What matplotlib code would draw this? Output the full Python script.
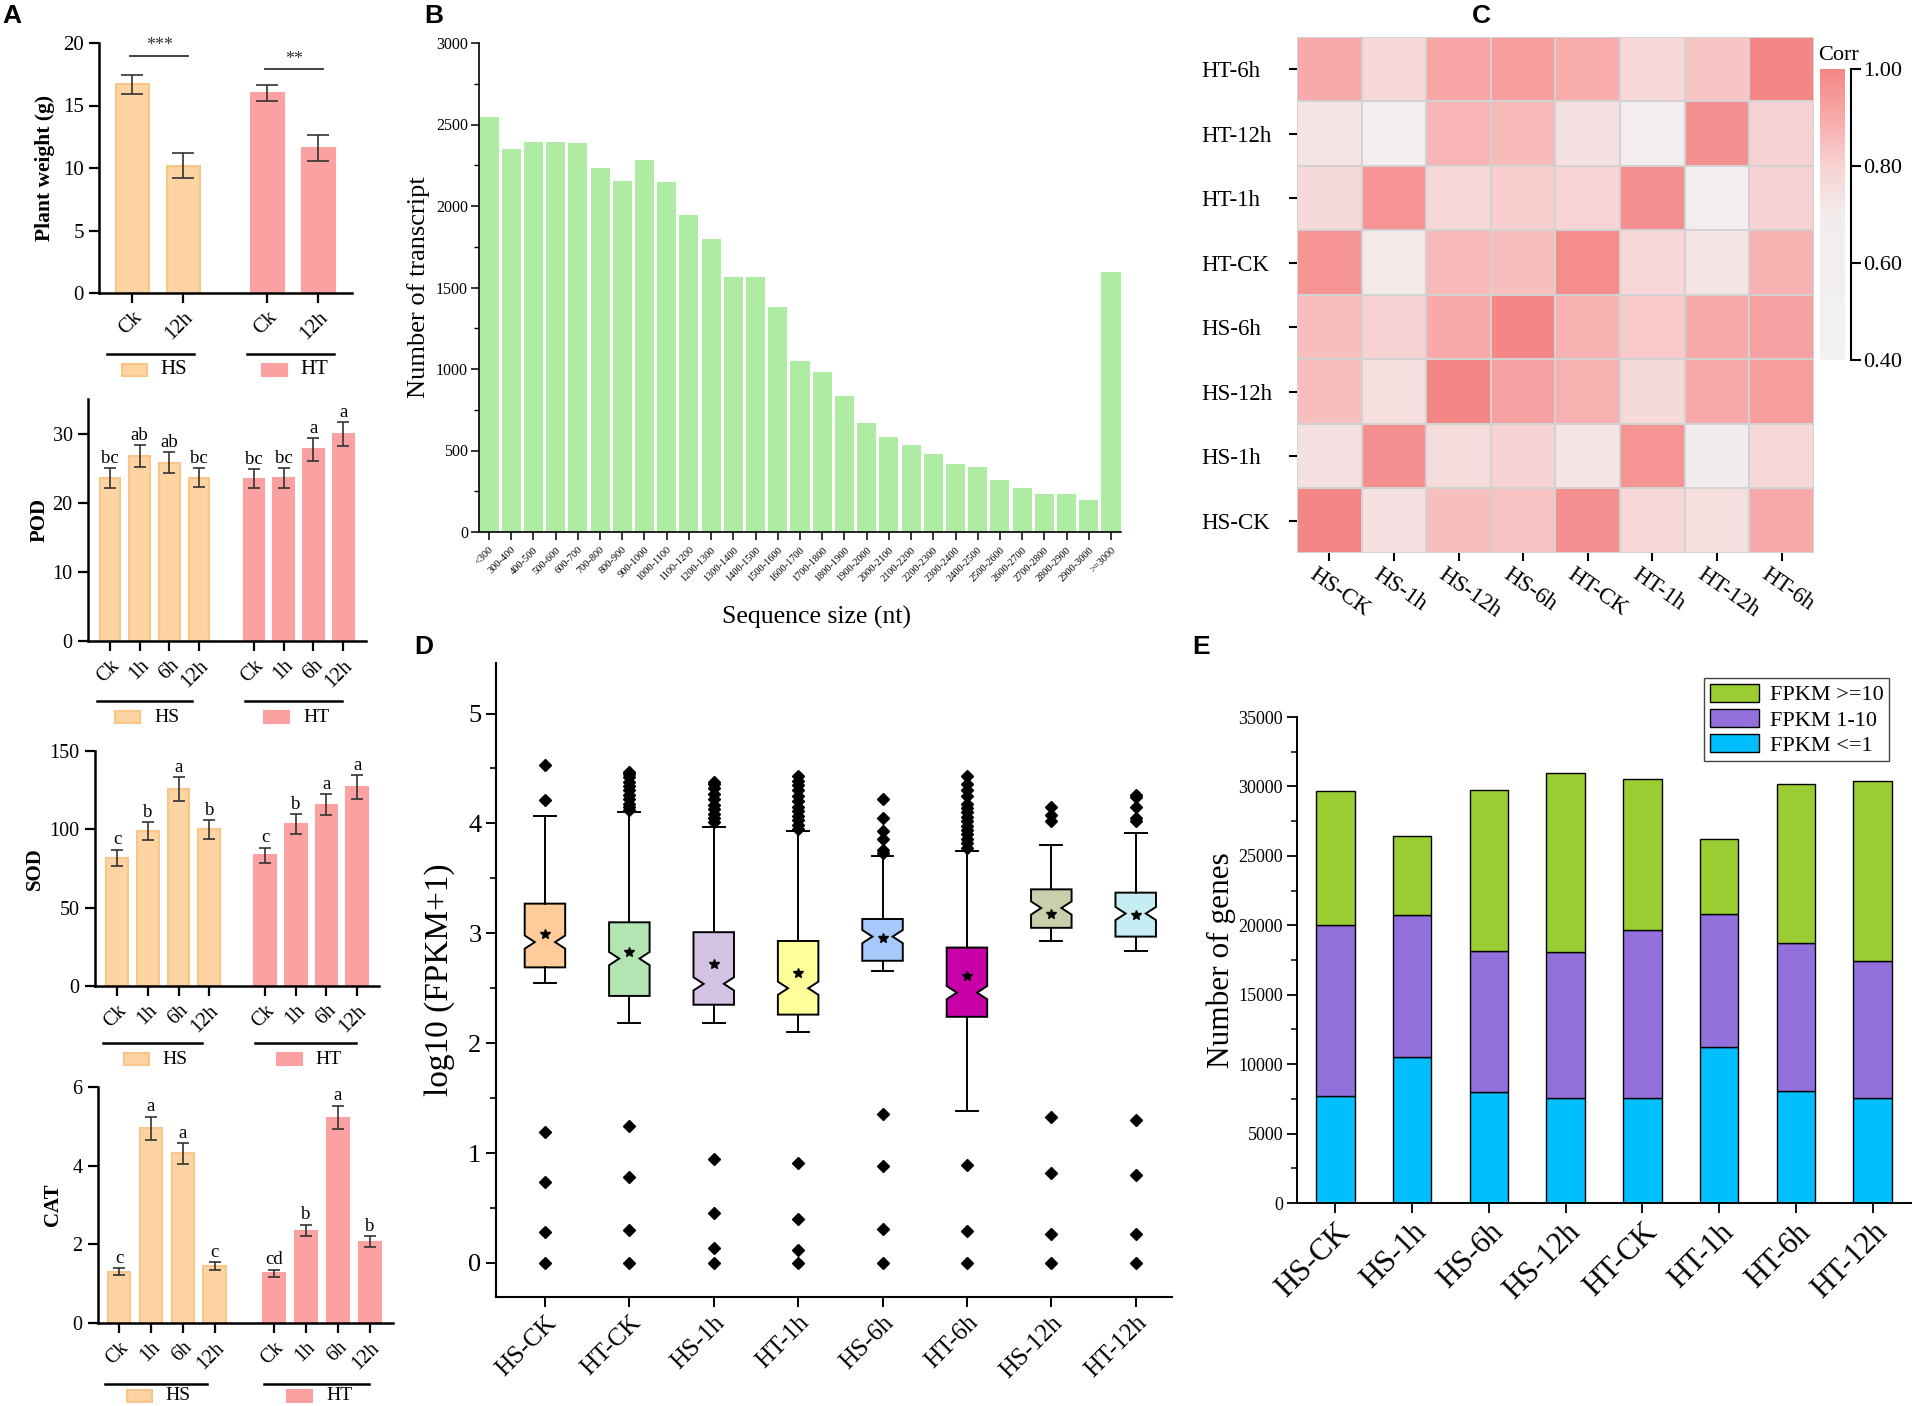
import numpy as np
import matplotlib
matplotlib.use("Agg")
import matplotlib.pyplot as plt
import matplotlib.transforms as mtransforms
from matplotlib.colors import LinearSegmentedColormap
from matplotlib.patches import Rectangle
from matplotlib.lines import Line2D
from matplotlib.ticker import MultipleLocator

W, H = 1915, 1406
plt.rcParams['font.family'] = ['Liberation Serif', 'DejaVu Serif']

# -----------------------------
# Data
# -----------------------------
# A: plant weight and enzyme activities (mean, sd)
pw_times = ["Ck", "12h"]
pw_hs, pw_hs_sd = [16.7, 10.2], [0.75, 1.0]
pw_ht, pw_ht_sd = [16.0, 11.6], [0.65, 1.05]
pw_sig = ["***", "**"]
pw_sig_y = [19.0, 17.9]

times = ["Ck", "1h", "6h", "12h"]
pod_hs, pod_hs_sd = [23.6, 26.7, 25.8, 23.6], [1.4, 1.6, 1.55, 1.35]
pod_ht, pod_ht_sd = [23.5, 23.6, 27.7, 29.9], [1.35, 1.4, 1.6, 1.75]
pod_letters = ["bc", "ab", "ab", "bc", "bc", "bc", "a", "a"]

sod_hs, sod_hs_sd = [81.9, 98.8, 125.7, 99.9], [5.0, 5.8, 7.5, 5.8]
sod_ht, sod_ht_sd = [83.3, 103.5, 115.7, 127.0], [4.9, 6.2, 6.8, 7.5]
sod_letters = ["c", "b", "a", "b", "c", "b", "a", "a"]

cat_hs, cat_hs_sd = [1.30, 4.95, 4.31, 1.44], [0.09, 0.30, 0.26, 0.10]
cat_ht, cat_ht_sd = [1.27, 2.35, 5.22, 2.07], [0.09, 0.15, 0.30, 0.13]
cat_letters = ["c", "a", "a", "c", "cd", "b", "a", "b"]

# B: transcript length distribution
size_bins = ["<300", "300-400", "400-500", "500-600", "600-700", "700-800",
             "800-900", "900-1000", "1000-1100", "1100-1200", "1200-1300",
             "1300-1400", "1400-1500", "1500-1600", "1600-1700", "1700-1800",
             "1800-1900", "1900-2000", "2000-2100", "2100-2200", "2200-2300",
             "2300-2400", "2400-2500", "2500-2600", "2600-2700", "2700-2800",
             "2800-2900", "2900-3000", ">=3000"]
n_transcript = [2548, 2348, 2394, 2391, 2386, 2234, 2154, 2285, 2147, 1946,
                1796, 1567, 1567, 1381, 1047, 979, 832, 667, 580, 534,
                479, 418, 399, 317, 268, 235, 235, 198, 1596]

# C: correlation heatmap
corr_rows = ["HT-6h", "HT-12h", "HT-1h", "HT-CK", "HS-6h", "HS-12h", "HS-1h", "HS-CK"]
corr_cols = ["HS-CK", "HS-1h", "HS-12h", "HS-6h", "HT-CK", "HT-1h", "HT-12h", "HT-6h"]
corr = np.array([
    [0.90, 0.78, 0.91, 0.93, 0.89, 0.78, 0.83, 1.00],
    [0.73, 0.67, 0.87, 0.86, 0.74, 0.67, 0.97, 0.80],
    [0.77, 0.96, 0.78, 0.81, 0.79, 0.97, 0.67, 0.80],
    [0.96, 0.71, 0.86, 0.85, 0.98, 0.78, 0.73, 0.88],
    [0.85, 0.80, 0.90, 1.00, 0.88, 0.82, 0.90, 0.92],
    [0.85, 0.75, 1.00, 0.92, 0.88, 0.77, 0.90, 0.93],
    [0.74, 0.97, 0.76, 0.80, 0.73, 0.96, 0.69, 0.78],
    [1.00, 0.74, 0.85, 0.84, 0.97, 0.78, 0.75, 0.90],
])

# D: log10(FPKM+1) box statistics
box_samples = ["HS-CK", "HT-CK", "HS-1h", "HT-1h", "HS-6h", "HT-6h", "HS-12h", "HT-12h"]
box_q1 = [2.69, 2.43, 2.35, 2.26, 2.75, 2.24, 3.05, 2.97]
box_med = [2.92, 2.77, 2.54, 2.50, 2.97, 2.46, 3.23, 3.18]
box_q3 = [3.27, 3.10, 3.01, 2.93, 3.13, 2.87, 3.40, 3.37]
box_lo = [2.55, 2.18, 2.18, 2.10, 2.66, 1.38, 2.93, 2.84]
box_hi = [4.07, 4.10, 3.97, 3.93, 3.70, 3.75, 3.80, 3.91]
box_mean = [2.99, 2.83, 2.72, 2.64, 2.96, 2.61, 3.18, 3.17]
box_out_hi = [
    [4.21, 4.53],
    [4.12, 4.15, 4.18, 4.22, 4.26, 4.30, 4.34, 4.38, 4.42, 4.45, 4.47],
    [4.01, 4.05, 4.09, 4.13, 4.17, 4.22, 4.27, 4.32, 4.36, 4.38],
    [3.95, 3.99, 4.03, 4.07, 4.11, 4.15, 4.20, 4.25, 4.30, 4.35, 4.39, 4.43],
    [3.73, 3.76, 3.86, 3.93, 4.05, 4.22],
    [3.78, 3.82, 3.86, 3.90, 3.94, 3.98, 4.02, 4.06, 4.10, 4.14, 4.18, 4.25, 4.30, 4.36, 4.43],
    [4.02, 4.08, 4.15],
    [4.02, 4.05, 4.15, 4.24, 4.26],
]
box_out_lo = [
    [1.19, 0.74, 0.28, 0.0],
    [1.25, 0.78, 0.30, 0.0],
    [0.95, 0.45, 0.14, 0.0],
    [0.91, 0.40, 0.12, 0.0],
    [1.36, 0.88, 0.31, 0.0],
    [0.89, 0.29, 0.0],
    [1.33, 0.82, 0.26, 0.0],
    [1.30, 0.80, 0.26, 0.0],
]
box_colors = ["#FFCC99", "#B3E5B3", "#D4C2E4", "#FFFF99",
              "#A6C8FA", "#C800A8", "#C9CFAA", "#C5EDF3"]

# E: genes by FPKM class
e_samples = ["HS-CK", "HS-1h", "HS-6h", "HS-12h", "HT-CK", "HT-1h", "HT-6h", "HT-12h"]
fpkm_le1 = [7720, 10540, 7970, 7570, 7570, 11230, 8080, 7570]
fpkm_1_10 = [12280, 10180, 10150, 10510, 12070, 9570, 10650, 9890]
fpkm_ge10 = [9670, 5730, 11630, 12900, 10900, 5400, 11450, 12930]

HS_COL, HS_EDGE = "#FDD4A2", "#F9C68A"
HT_COL, HT_EDGE = "#FCA1A1", "#FCA1A1"

fig = plt.figure(figsize=(W / 100, H / 100), dpi=100)


def add_ax(l, t, r, b):
    return fig.add_axes([l / W, 1 - b / H, (r - l) / W, (b - t) / H])


def to_fig(ax, x, y):
    d = ax.transData.transform((x, y))
    return fig.transFigure.inverted().transform(d)


def ylabel_at(ax, text, x_px, fs, bold=False):
    pos = ax.get_position()
    xa = (x_px / W - pos.x0) / pos.width
    ax.set_ylabel(text, fontsize=fs, fontweight="bold" if bold else "normal")
    ax.yaxis.set_label_coords(xa, 0.5)
    ax.yaxis.label.set_va("center")


def shift_labels(labels, dx, dy):
    for lab in labels:
        lab.set_transform(lab.get_transform() +
                          mtransforms.ScaledTranslation(dx / 100, dy / 100, fig.dpi_scale_trans))


# -----------------------------
# A: bar panels
# -----------------------------
def bar_panel(box, hs, hs_sd, ht, ht_sd, labels, gap, xlim, ylim, yticks,
              ylabel, ylab_x, width, capsize, fs, letters=None,
              hs_span=(-0.45, -0.24), ht_span=(-0.32, -0.03),
              line_dy=60, leg_dy=76, leg_fs=14):
    ax = add_ax(*box)
    n = len(hs)
    x_hs = np.arange(n, dtype=float)
    x_ht = x_hs + (n - 1) + gap
    ax.bar(x_hs, hs, width=width, color=HS_COL, edgecolor=HS_EDGE, linewidth=1.5)
    ax.bar(x_ht, ht, width=width, color=HT_COL, edgecolor=HT_EDGE, linewidth=1.5)
    for xs, ys, es in ((x_hs, hs, hs_sd), (x_ht, ht, ht_sd)):
        ax.errorbar(xs, ys, yerr=es, fmt="none", ecolor="#333333",
                    elinewidth=1.2, capsize=capsize, capthick=1.2)
    if letters is not None:
        tops = list(np.add(hs, hs_sd)) + list(np.add(ht, ht_sd))
        for x, t, s in zip(list(x_hs) + list(x_ht), tops, letters):
            ax.annotate(s, (x, t), xytext=(0, 1), textcoords="offset points",
                        ha="center", va="bottom", fontsize=fs - 1)
    ax.set_xlim(*xlim)
    ax.set_ylim(*ylim)
    ax.set_yticks(yticks)
    ax.set_xticks(list(x_hs) + list(x_ht))
    ax.set_xticklabels(labels * 2, rotation=45, ha="right",
                       rotation_mode="anchor", fontsize=fs)
    ax.tick_params(axis="y", labelsize=fs)
    ax.tick_params(direction="out", length=7.5, width=1.6)
    for s in ("top", "right"):
        ax.spines[s].set_visible(False)
    for s in ("left", "bottom"):
        ax.spines[s].set_linewidth(1.8)
    ylabel_at(ax, ylabel, ylab_x, fs + 0.5, bold=True)

    # group lines with a small legend key underneath
    ybot = ax.get_position().y0
    for xs, span, name, fc, ec in ((x_hs, hs_span, "HS", HS_COL, HS_EDGE),
                                   (x_ht, ht_span, "HT", HT_COL, HT_EDGE)):
        x0 = to_fig(ax, xs[0] + span[0], 0)[0]
        x1 = to_fig(ax, xs[-1] + span[1], 0)[0]
        yl = ybot - line_dy / H
        fig.add_artist(Line2D([x0, x1], [yl, yl], color="black", lw=1.8))
        cx = (x0 + x1) / 2
        yk = ybot - leg_dy / H
        fig.add_artist(Rectangle((cx - 29 / W, yk - 6 / H), 25 / W, 12 / H,
                                 facecolor=fc, edgecolor=ec, lw=1.5))
        fig.text(cx + 10 / W, yk, name, ha="left", va="center", fontsize=leg_fs)
    return ax, x_hs, x_ht


axA1, xh, xt = bar_panel((99, 43, 352, 293), pw_hs, pw_hs_sd, pw_ht, pw_ht_sd,
                         pw_times, 1.65, (-0.65, 4.31), (0, 20), [0, 5, 10, 15, 20],
                         "Plant weight (g)", 45, 0.65, 8, 15,
                         hs_span=(-0.49, 0.22), ht_span=(-0.39, 0.31),
                         line_dy=61, leg_dy=77, leg_fs=15)
for xs, s, y in zip((xh, xt), pw_sig, pw_sig_y):
    axA1.plot([xs[0] - 0.05, xs[1] + 0.1], [y, y], color="#333333", lw=1.3)
    axA1.text((xs[0] + xs[1]) / 2 + 0.03, y + 0.1, s, ha="center", va="bottom",
              fontsize=13, color="#333333")

bar_panel((88, 399, 366, 641), pod_hs, pod_hs_sd, pod_ht, pod_ht_sd, times, 1.85,
          (-0.74, 8.62), (0, 35), [0, 10, 20, 30], "POD", 40, 0.7, 4.3, 14.5,
          letters=pod_letters, line_dy=60, leg_dy=76)
bar_panel((95, 751, 379, 986), sod_hs, sod_hs_sd, sod_ht, sod_ht_sd, times, 1.82,
          (-0.72, 8.53), (0, 150), [0, 50, 100, 150], "SOD", 35, 0.7, 4.0, 14.5,
          letters=sod_letters, line_dy=57, leg_dy=73)
bar_panel((98, 1087, 393, 1323), cat_hs, cat_hs_sd, cat_ht, cat_ht_sd, times, 1.87,
          (-0.66, 8.6), (0, 6), [0, 2, 4, 6], "CAT", 53, 0.7, 4.0, 14.5,
          letters=cat_letters, line_dy=61, leg_dy=73)

# -----------------------------
# B: sequence size distribution
# -----------------------------
axB = add_ax(479, 43, 1121, 532)
xb = np.arange(len(size_bins))
axB.bar(xb, n_transcript, width=0.86, color="#AEEBA3")
axB.set_xlim(-0.45, len(size_bins) - 0.55)
axB.set_ylim(0, 3000)
axB.yaxis.set_major_locator(MultipleLocator(500))
axB.yaxis.set_minor_locator(MultipleLocator(250))
axB.set_xticks(xb)
axB.set_xticklabels(size_bins, rotation=45, ha="right", rotation_mode="anchor",
                    fontsize=7.5)
axB.tick_params(axis="y", labelsize=11.5, pad=2)
axB.tick_params(direction="out", length=6, width=1.1)
axB.tick_params(which="minor", direction="out", length=3.5, width=1.0)
for s in ("top", "right"):
    axB.spines[s].set_visible(False)
for s in ("left", "bottom"):
    axB.spines[s].set_linewidth(1.2)
ylabel_at(axB, "Number of transcript", 419, 19)
axB.set_xlabel("Sequence size (nt)", fontsize=18.5)
axB.xaxis.set_label_coords((817 - 479) / (1121 - 479), -(617 - 532) / (532 - 43))
axB.xaxis.label.set_va("center")

# -----------------------------
# C: correlation heatmap
# -----------------------------
axC = add_ax(1297, 37, 1814, 553)
cmap = LinearSegmentedColormap.from_list(
    "corr", [(0, "#F2F2F2"), (0.5, "#F3ECEC"), (0.667, "#F8D2D2"),
             (0.833, "#F8A9A9"), (1, "#F48686")])
mesh = axC.pcolormesh(corr, cmap=cmap, vmin=0.4, vmax=1.0,
                      edgecolors="#D2D2D2", linewidth=1.3)
axC.set_xlim(0, len(corr_cols))
axC.set_ylim(len(corr_rows), 0)
for s in axC.spines.values():
    s.set_visible(False)
axC.set_xticks(np.arange(len(corr_cols)) + 0.5)
axC.set_yticks(np.arange(len(corr_rows)) + 0.5)
axC.set_xticklabels(corr_cols, rotation=-35, ha="left", va="top",
                    rotation_mode="anchor", fontsize=16.5)
axC.set_yticklabels(corr_rows, ha="left", fontsize=16.5)
axC.tick_params(axis="y", length=6, width=1.5, pad=63)
axC.tick_params(axis="x", length=6, width=1.5, pad=2)
shift_labels(axC.get_xticklabels(), -12, 0)

cax = add_ax(1820, 69, 1845, 360)
cb = fig.colorbar(mesh, cax=cax, ticks=[0.4, 0.6, 0.8, 1.0])
cb.ax.set_yticklabels(["0.40", "0.60", "0.80", "1.00"])
cb.outline.set_visible(False)
cax.spines["right"].set_visible(True)
cax.spines["right"].set_position(("outward", 4))
cax.spines["right"].set_linewidth(1.5)
cax.tick_params(length=7, width=1.5, labelsize=16, pad=2)
fig.text(1818 / W, 1 - 60 / H, "Corr", ha="left", va="baseline", fontsize=16)

# -----------------------------
# D: boxplots
# -----------------------------
axD = add_ax(496, 663, 1172, 1297)
stats = []
for i, name in enumerate(box_samples):
    stats.append(dict(label=name, med=box_med[i], q1=box_q1[i], q3=box_q3[i],
                      whislo=box_lo[i], whishi=box_hi[i], mean=box_mean[i],
                      cilo=box_med[i] - 0.06, cihi=box_med[i] + 0.06,
                      fliers=np.array(box_out_hi[i] + box_out_lo[i])))
bp = axD.bxp(stats, positions=np.arange(len(stats)), widths=0.48,
             patch_artist=True, shownotches=True, showmeans=True,
             boxprops=dict(linewidth=1.4, edgecolor="black"),
             whiskerprops=dict(linewidth=1.4), capprops=dict(linewidth=1.4),
             medianprops=dict(visible=False),
             meanprops=dict(marker="*", markerfacecolor="black",
                            markeredgecolor="black", markersize=7),
             flierprops=dict(marker="D", markerfacecolor="black",
                             markeredgecolor="black", markersize=6.5),
             capwidths=0.26, manage_ticks=False)
for patch, c in zip(bp["boxes"], box_colors):
    patch.set_facecolor(c)
axD.set_xlim(-0.58, 7.43)
axD.set_ylim(-0.31, 5.46)
axD.yaxis.set_major_locator(MultipleLocator(1))
axD.yaxis.set_minor_locator(MultipleLocator(0.5))
axD.set_xticks(np.arange(len(box_samples)))
axD.set_xticklabels(box_samples, rotation=45, ha="right", rotation_mode="anchor",
                    fontsize=18)
shift_labels(axD.get_xticklabels(), 20, -20)
axD.tick_params(axis="y", labelsize=19)
axD.tick_params(direction="out", length=7, width=1.4)
axD.tick_params(which="minor", direction="out", length=4, width=1.2)
for s in ("top", "right"):
    axD.spines[s].set_visible(False)
for s in ("left", "bottom"):
    axD.spines[s].set_linewidth(1.5)
ylabel_at(axD, "log10 (FPKM+1)", 440, 24)

# -----------------------------
# E: stacked bars
# -----------------------------
axE = add_ax(1297, 717, 1911, 1203)
xe = np.arange(len(e_samples))
b1 = axE.bar(xe, fpkm_le1, 0.5, color="#00BFFF", edgecolor="black", lw=1.0)
b2 = axE.bar(xe, fpkm_1_10, 0.5, bottom=fpkm_le1, color="#9370DB",
             edgecolor="black", lw=1.0)
b3 = axE.bar(xe, fpkm_ge10, 0.5, bottom=np.add(fpkm_le1, fpkm_1_10),
             color="#9ACD32", edgecolor="black", lw=1.0)
axE.set_xlim(-0.5, len(e_samples) - 0.5)
axE.set_ylim(0, 35000)
axE.yaxis.set_major_locator(MultipleLocator(5000))
axE.yaxis.set_minor_locator(MultipleLocator(2500))
axE.set_xticks(xe)
axE.set_xticklabels(e_samples, rotation=45, ha="right", rotation_mode="anchor",
                    fontsize=22)
shift_labels(axE.get_xticklabels(), 22, 4)
axE.tick_params(axis="y", labelsize=13, pad=3)
axE.tick_params(direction="out", length=7, width=1.3)
axE.tick_params(which="minor", direction="out", length=4, width=1.1)
for s in ("top", "right"):
    axE.spines[s].set_visible(False)
for s in ("left", "bottom"):
    axE.spines[s].set_linewidth(1.4)
ylabel_at(axE, "Number of genes", 1221, 22.5)
leg = axE.legend([b3, b2, b1], ["FPKM >=10", "FPKM 1-10", "FPKM <=1"],
                 loc="upper right", bbox_to_anchor=(1889 / W, 1 - 678 / H),
                 bbox_transform=fig.transFigure, borderaxespad=0, fontsize=16,
                 fancybox=False, edgecolor="#444444", framealpha=1,
                 handlelength=2.2, handleheight=0.9, labelspacing=0.15,
                 borderpad=0.25, handletextpad=0.5)
leg.get_frame().set_linewidth(1.0)

# -----------------------------
# Panel letters
# -----------------------------
for letter, (x, y) in zip("ABCDE", [(2, 4), (424, 4), (1472, 4), (414, 635), (1192, 635)]):
    fig.text(x / W, 1 - y / H, letter, ha="left", va="top", fontsize=19,
             fontweight="bold", family=["Liberation Sans", "DejaVu Sans"])

fig.savefig("out.png", dpi=100)
